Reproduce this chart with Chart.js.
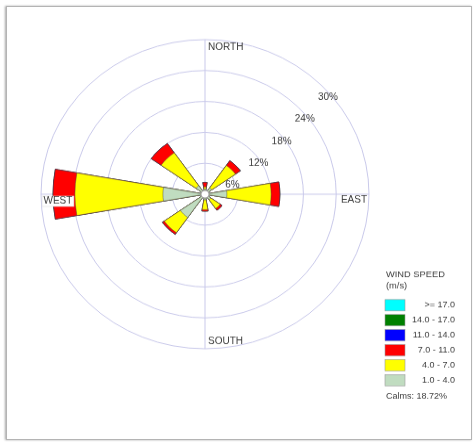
<!DOCTYPE html>
<html>
<head>
<meta charset="utf-8">
<script src="https://cdn.jsdelivr.net/npm/chart.js@4.4.0/dist/chart.umd.min.js"></script>
<style>
  html, body { margin: 0; padding: 0; background: #fff; }
  #wrap { position: relative; width: 473px; height: 443px; overflow: hidden; }
  #rose { position: absolute; left: 0; top: 0; transform-origin: 0 0; transform: scale(1, 0.9426); }
  #frame { position: absolute; left: 6px; top: 6px; width: 464px; height: 432px; border: 1px solid #b4b4b4;
           box-shadow: -1px 0 2px rgba(0,0,0,0.35); pointer-events: none; }
</style>
</head>
<body>
<div id="wrap">
  <canvas id="rose" width="473" height="470"></canvas>
  <div id="frame"></div>
</div>
<script>
// wind directions, clockwise from north
const directions = ['N', 'NNE', 'NE', 'ENE', 'E', 'ESE', 'SE', 'SSE', 'S', 'SSW', 'SW', 'WSW', 'W', 'WNW', 'NW', 'NNW'];

// % of time in each speed class (m/s), per direction
const speed1to4   = [1.0, 0, 1.5, 0, 4.0, 0, 1.3, 0, 1.1, 0, 5.5, 0, 7.7, 0, 2.0, 0];
const speed4to7   = [0.4, 0, 5.3, 0, 8.1, 0, 2.1, 0, 1.9, 0, 3.6, 0, 16.1, 0, 7.8, 0];
const speed7to11  = [0.9, 0, 1.1, 0, 1.6, 0, 0.4, 0, 0.3, 0, 0.4, 0, 4.0, 0, 2.2, 0];
const speed11to14 = [0, 0, 0, 0, 0, 0, 0, 0, 0, 0, 0, 0, 0, 0, 0, 0];
const speed14to17 = [0, 0, 0, 0, 0, 0, 0, 0, 0, 0, 0, 0, 0, 0, 0, 0];
const speed17up   = [0, 0, 0, 0, 0, 0, 0, 0, 0, 0, 0, 0, 0, 0, 0, 0];

// legend, top to bottom
const speedLabels = ['>= 17.0', '14.0 - 17.0', '11.0 - 14.0', '7.0 - 11.0', '4.0 - 7.0', '1.0 - 4.0'];
const speedColors = ['#00ffff', '#008000', '#0000ff', '#ff0000', '#ffff00', '#c0dcc0'];
const calms = 18.72;

const BAR_DEG = 20;
const GAP_DEG = 360 / directions.length - BAR_DEG;
const gridColor = '#c9c9ea';
const textColor = '#3a3a3a';
const FONT = '"Liberation Sans", Arial, sans-serif';

// bins from slowest to fastest, stacked as cumulative radii
const bins = [speed1to4, speed4to7, speed7to11, speed11to14, speed14to17, speed17up];
const binColors = speedColors.slice().reverse();
const running = directions.map(() => 0);
const labels = [];
directions.forEach(d => { labels.push(d); labels.push(''); });

const datasets = bins.map((bin, b) => {
  const data = [];
  bin.forEach((v, i) => {
    running[i] += v;
    data.push(+running[i].toFixed(2));
    data.push(0); // gap between petals
  });
  return {
    label: speedLabels[speedLabels.length - 1 - b],
    data: data,
    backgroundColor: binColors[b],
    borderColor: 'rgba(70,70,70,0.55)',
    borderWidth: ctx => (ctx.raw > 0 ? 0.8 : 0),
    angle: ctx => (ctx.dataIndex % 2 === 0 ? BAR_DEG : GAP_DEG)
  };
});

const roseDecor = {
  id: 'roseDecor',
  beforeDatasetsDraw(chart) {
    const s = chart.scales.r, ctx = chart.ctx;
    const cx = s.xCenter, cy = s.yCenter, r = s.drawingArea;
    ctx.save();
    ctx.strokeStyle = gridColor;
    ctx.lineWidth = 1;
    ctx.beginPath();
    ctx.moveTo(cx, cy - r); ctx.lineTo(cx, cy + r);
    ctx.moveTo(cx - r, cy); ctx.lineTo(cx + r, cy);
    ctx.stroke();
    ctx.restore();
  },
  afterDatasetsDraw(chart) {
    const s = chart.scales.r, ctx = chart.ctx;
    const cx = s.xCenter, cy = s.yCenter, r = s.drawingArea;
    ctx.save();

    // calm circle
    ctx.beginPath();
    ctx.arc(cx, cy, 4, 0, Math.PI * 2);
    ctx.fillStyle = '#fff';
    ctx.fill();
    ctx.strokeStyle = '#999';
    ctx.lineWidth = 0.8;
    ctx.stroke();

    // compass labels
    ctx.font = '10px ' + FONT;
    ctx.fillStyle = textColor;
    ctx.textBaseline = 'middle';
    ctx.textAlign = 'left';
    ctx.fillText('NORTH', cx + 3, cy - r + 8);
    ctx.fillText('SOUTH', cx + 3, cy + r - 8);
    ctx.textAlign = 'right';
    ctx.fillText('EAST', cx + r - 2, cy + 6);
    ctx.textAlign = 'left';
    const ww = ctx.measureText('WEST').width;
    ctx.fillStyle = '#fff';
    ctx.fillRect(cx - r + 1, cy + 2, ww + 3, 11);
    ctx.strokeStyle = '#ddd';
    ctx.lineWidth = 0.6;
    ctx.strokeRect(cx - r + 1, cy + 2, ww + 3, 11);
    ctx.fillStyle = textColor;
    ctx.fillText('WEST', cx - r + 2.5, cy + 7.5);

    // ring labels along the 45 degree line
    const a = Math.PI / 4;
    s.ticks.forEach(t => {
      if (t.value <= 0) return;
      const d = s.getDistanceFromCenterForValue(t.value);
      ctx.fillText(t.value + '%', cx + d * Math.cos(a) - 3, cy - d * Math.sin(a) + 13.5);
    });

    // wind speed legend
    const lx = 385, rx = 455;
    ctx.font = '9.3px ' + FONT;
    ctx.textAlign = 'left';
    ctx.fillText('WIND SPEED', lx + 1, 291);
    ctx.fillText('(m/s)', lx + 1, 303.5);
    ctx.font = '9px ' + FONT;
    speedLabels.forEach((lab, i) => {
      const y = 323.8 + i * 15.9;
      ctx.fillStyle = speedColors[i];
      ctx.fillRect(lx, y - 6, 20, 12);
      ctx.strokeStyle = '#999';
      ctx.lineWidth = 0.6;
      ctx.strokeRect(lx, y - 6, 20, 12);
      ctx.fillStyle = textColor;
      ctx.textAlign = 'right';
      ctx.fillText(lab, rx, y);
    });
    ctx.textAlign = 'left';
    ctx.fillText('Calms: ' + calms.toFixed(2) + '%', lx + 1, 420.5);
    ctx.restore();
  }
};

new Chart(document.getElementById('rose'), {
  type: 'polarArea',
  data: { labels: labels, datasets: datasets },
  options: {
    responsive: false,
    animation: false,
    events: [],
    layout: { padding: { left: 41, right: 104, top: 42, bottom: 100 } },
    plugins: { legend: { display: false }, tooltip: { enabled: false } },
    scales: {
      r: {
        min: 0,
        max: 30,
        startAngle: -BAR_DEG / 2,
        ticks: { display: false, stepSize: 6 },
        grid: { color: gridColor, lineWidth: 1, circular: true },
        angleLines: { display: false },
        pointLabels: { display: false }
      }
    }
  },
  plugins: [roseDecor]
});
</script>
</body>
</html>
